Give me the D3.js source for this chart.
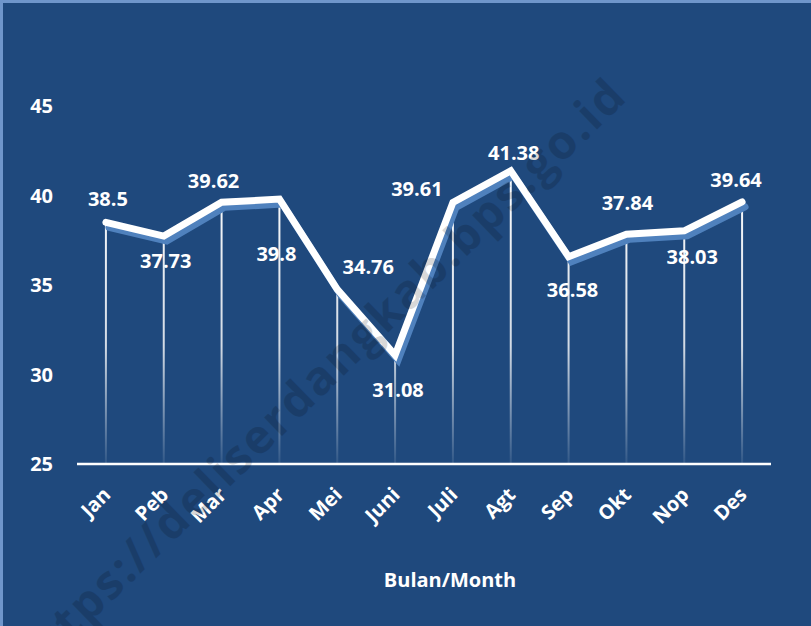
<!DOCTYPE html>
<html>
<head>
<meta charset="utf-8">
<script src="https://cdn.jsdelivr.net/npm/d3@7"></script>
<style>
  html, body { margin: 0; padding: 0; background: #1f497d; }
  svg { display: block; }
  text { font-family: "Open Sans", sans-serif; font-weight: bold; fill: #fff; }
</style>
</head>
<body>
<svg id="chart" width="811" height="626"></svg>
<script>
// monthly values (Bulan/Month)
const months = ["Jan", "Peb", "Mar", "Apr", "Mei", "Juni", "Juli", "Agt", "Sep", "Okt", "Nop", "Des"];
const values = [38.5, 37.73, 39.62, 39.8, 34.76, 31.08, 39.61, 41.38, 36.58, 37.84, 38.03, 39.64];
const yTicks = [25, 30, 35, 40, 45];

// where each data label sits relative to its point (hand placed, like the original)
const labelOffsets = [
    [2, -24], [2, 25], [-8, -22], [-3, 55], [31, -22], [3, 35],
    [-36, -14], [3, -18], [4, 33], [1, -31], [8, 26], [-6, -22]
];

const width = 811, height = 626;
const margin = { top: 106, right: 40, bottom: 162, left: 77 };

const svg = d3.select("#chart");

// background + light frame on top/left
svg.append("rect")
    .attr("width", width).attr("height", height)
    .attr("fill", "#1f497d");
svg.append("rect")
    .attr("x", 1.5).attr("y", 1.5)
    .attr("width", width + 20).attr("height", height + 20)
    .attr("fill", "none")
    .attr("stroke", "#6f96cb")
    .attr("stroke-width", 3);

const x = d3.scaleBand()
    .domain(months)
    .range([margin.left, width - margin.right]);
const y = d3.scaleLinear()
    .domain([25, 45])
    .range([height - margin.bottom, margin.top]);

const cx = (d) => x(d) + x.bandwidth() / 2;

// fading white gradient for the drop lines
const defs = svg.append("defs");
const grad = defs.append("linearGradient")
    .attr("id", "dropFade")
    .attr("gradientUnits", "userSpaceOnUse")
    .attr("x1", 0).attr("x2", 0)
    .attr("y1", y(41.5)).attr("y2", y(25));
grad.append("stop").attr("offset", "0%").attr("stop-color", "#fff").attr("stop-opacity", 1);
grad.append("stop").attr("offset", "60%").attr("stop-color", "#fff").attr("stop-opacity", 0.8);
grad.append("stop").attr("offset", "100%").attr("stop-color", "#fff").attr("stop-opacity", 0.08);

const data = months.map((m, i) => ({ month: m, value: values[i], off: labelOffsets[i] }));

// drop lines
svg.append("g")
    .selectAll("line")
    .data(data)
    .enter()
    .append("line")
    .attr("x1", (d) => cx(d.month))
    .attr("x2", (d) => cx(d.month))
    .attr("y1", (d) => y(d.value))
    .attr("y2", y(25))
    .attr("stroke", "url(#dropFade)")
    .attr("stroke-width", 2);

// x axis line
svg.append("line")
    .attr("x1", margin.left).attr("x2", width - margin.right)
    .attr("y1", y(25)).attr("y2", y(25))
    .attr("stroke", "#fff")
    .attr("stroke-width", 2.5);

// y tick labels (no axis line in the original)
svg.append("g")
    .selectAll("text")
    .data(yTicks)
    .enter()
    .append("text")
    .attr("x", 53)
    .attr("y", (d) => y(d))
    .attr("dy", "0.36em")
    .attr("text-anchor", "end")
    .style("font-size", "20px")
    .text((d) => d);

// x tick labels, rotated
svg.append("g")
    .selectAll("text")
    .data(months)
    .enter()
    .append("text")
    .attr("transform", (d) => `translate(${cx(d) + 6},${y(25) + 32}) rotate(-45)`)
    .attr("text-anchor", "end")
    .style("font-size", "20px")
    .text((d) => d);

const line = d3.line()
    .x((d) => cx(d.month))
    .y((d) => y(d.value));

// shadow of the line
svg.append("path")
    .datum(data)
    .attr("d", line)
    .attr("transform", "translate(3,5)")
    .attr("fill", "none")
    .attr("stroke", "#4f81bd")
    .attr("stroke-width", 7)
    .attr("stroke-linejoin", "miter")
    .attr("stroke-linecap", "round");

svg.append("path")
    .datum(data)
    .attr("d", line)
    .attr("fill", "none")
    .attr("stroke", "#fff")
    .attr("stroke-width", 7)
    .attr("stroke-linejoin", "miter")
    .attr("stroke-linecap", "round");

// data labels
svg.append("g")
    .selectAll("text")
    .data(data)
    .enter()
    .append("text")
    .attr("x", (d) => cx(d.month) + d.off[0])
    .attr("y", (d) => y(d.value) + d.off[1])
    .attr("dy", "0.36em")
    .attr("text-anchor", "middle")
    .style("font-size", "20px")
    .text((d) => d.value);

// axis title
svg.append("text")
    .attr("x", 450)
    .attr("y", 587)
    .attr("text-anchor", "middle")
    .style("font-size", "20px")
    .text("Bulan/Month");

// watermark across the chart
svg.append("text")
    .attr("transform", "translate(318,378) rotate(-44.2)")
    .attr("text-anchor", "middle")
    .attr("dy", "0.35em")
    .attr("textLength", 832)
    .attr("lengthAdjust", "spacing")
    .style("font-size", "47px")
    .style("fill", "#000")
    .style("opacity", 0.15)
    .text("https://deliserdangkab.bps.go.id");
</script>
</body>
</html>
